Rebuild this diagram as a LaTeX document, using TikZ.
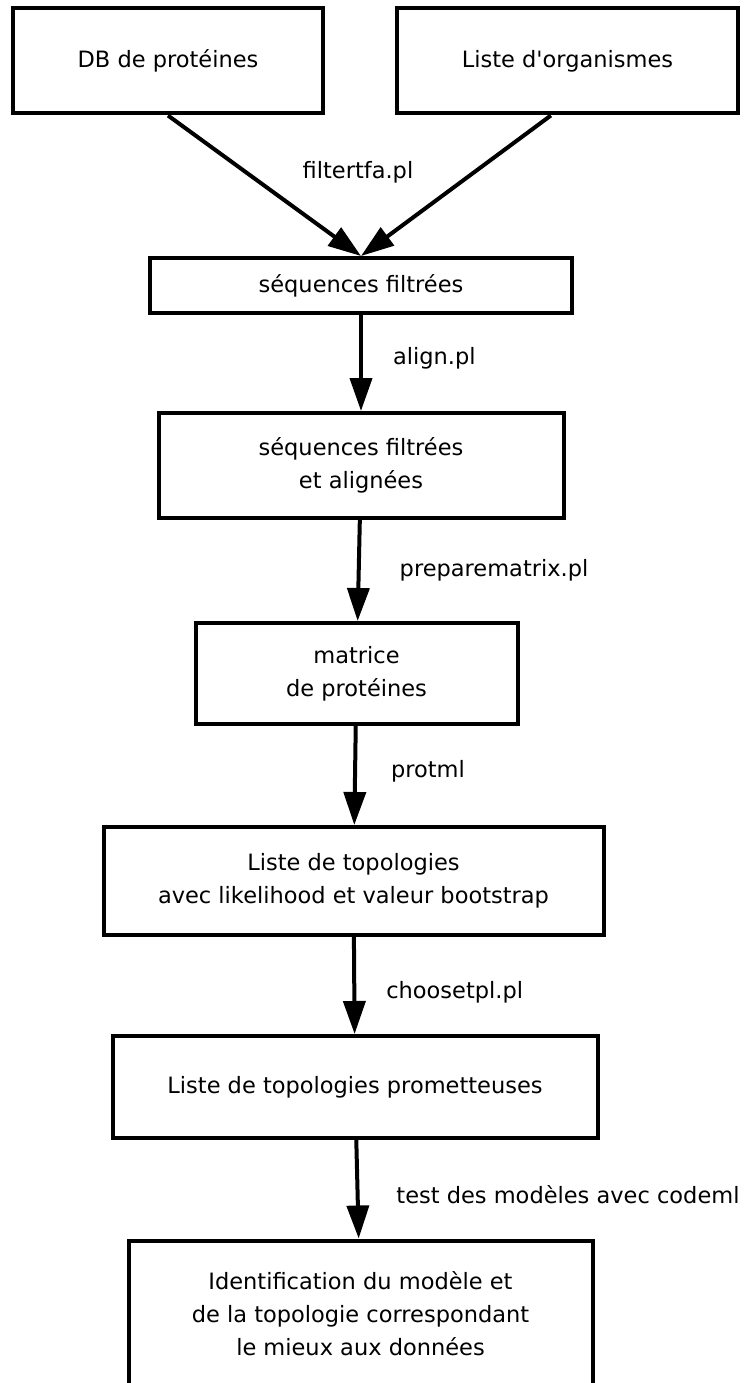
\documentclass[tikz,border=0pt]{standalone}
\usepackage{fontspec}
\setmainfont{DejaVu Sans}
\usetikzlibrary{arrows.meta, positioning}

\begin{document}
\begin{tikzpicture}[
        x=1pt, y=-1pt,
        box/.style={rectangle, draw, line width=4pt, align=center, inner sep=0pt,
                    font=\fontsize{22.5}{33}\selectfont},
        lbl/.style={inner sep=0pt, font=\fontsize{22.5}{33}\selectfont},
        line/.style={line width=4pt, -{Triangle[length=33pt, width=22pt]}}
    ]
    \useasboundingbox (0,0) rectangle (752,1383);
    \node [box, minimum width=310pt, minimum height=105pt] (db) at (168,61) {DB de protéines};
    \node [box, minimum width=341pt, minimum height=105pt] (org) at (567.5,61) {Liste d\textquotesingle organismes};
    \node [box, minimum width=422pt, minimum height=55pt] (seq) at (361,285.5) {séquences filtrées};
    \node [box, minimum width=405pt, minimum height=105pt, below=96pt of seq] (aln) {séquences filtrées\\et alignées};
    \node [box, minimum width=322pt, minimum height=101pt, below=101pt of aln, xshift=-4.5pt] (mat) {matrice\\de protéines};
    \node [box, minimum width=500pt, minimum height=108pt, below=99pt of mat, xshift=-3pt] (topo) {Liste de topologies\\avec likelihood et valeur bootstrap};
    \node [box, minimum width=485pt, minimum height=102pt, below=97pt of topo, xshift=1.5pt] (prom) {Liste de topologies prometteuses};
    \node [box, minimum width=464pt, minimum height=146pt, below=98.5pt of prom, xshift=5.5pt] (ident) {Identification du modèle et\\de la topologie correspondant\\le mieux aux données};
    \node [lbl] (filt) at (358,172) {filtertfa.pl};
    \draw[line] (db.south) -- (seq.north);
    \draw[line] (org.-107.5) -- (seq.north);
    \draw[line] (seq) -- (aln) node[midway, right=30pt, lbl, yshift=5pt] {align.pl};
    \draw[line] (aln) -- (mat) node[midway, right=39pt, lbl] {preparematrix.pl};
    \draw[line] (mat) -- (topo) node[midway, right=34pt, lbl, yshift=4pt] {protml};
    \draw[line] (topo) -- (prom) node[midway, right=30pt, lbl, yshift=-7pt] {choosetpl.pl};
    \draw[line] (prom) -- (ident) node[midway, right=37pt, lbl, yshift=-5pt] {test des modèles avec codeml};
\end{tikzpicture}
\end{document}
